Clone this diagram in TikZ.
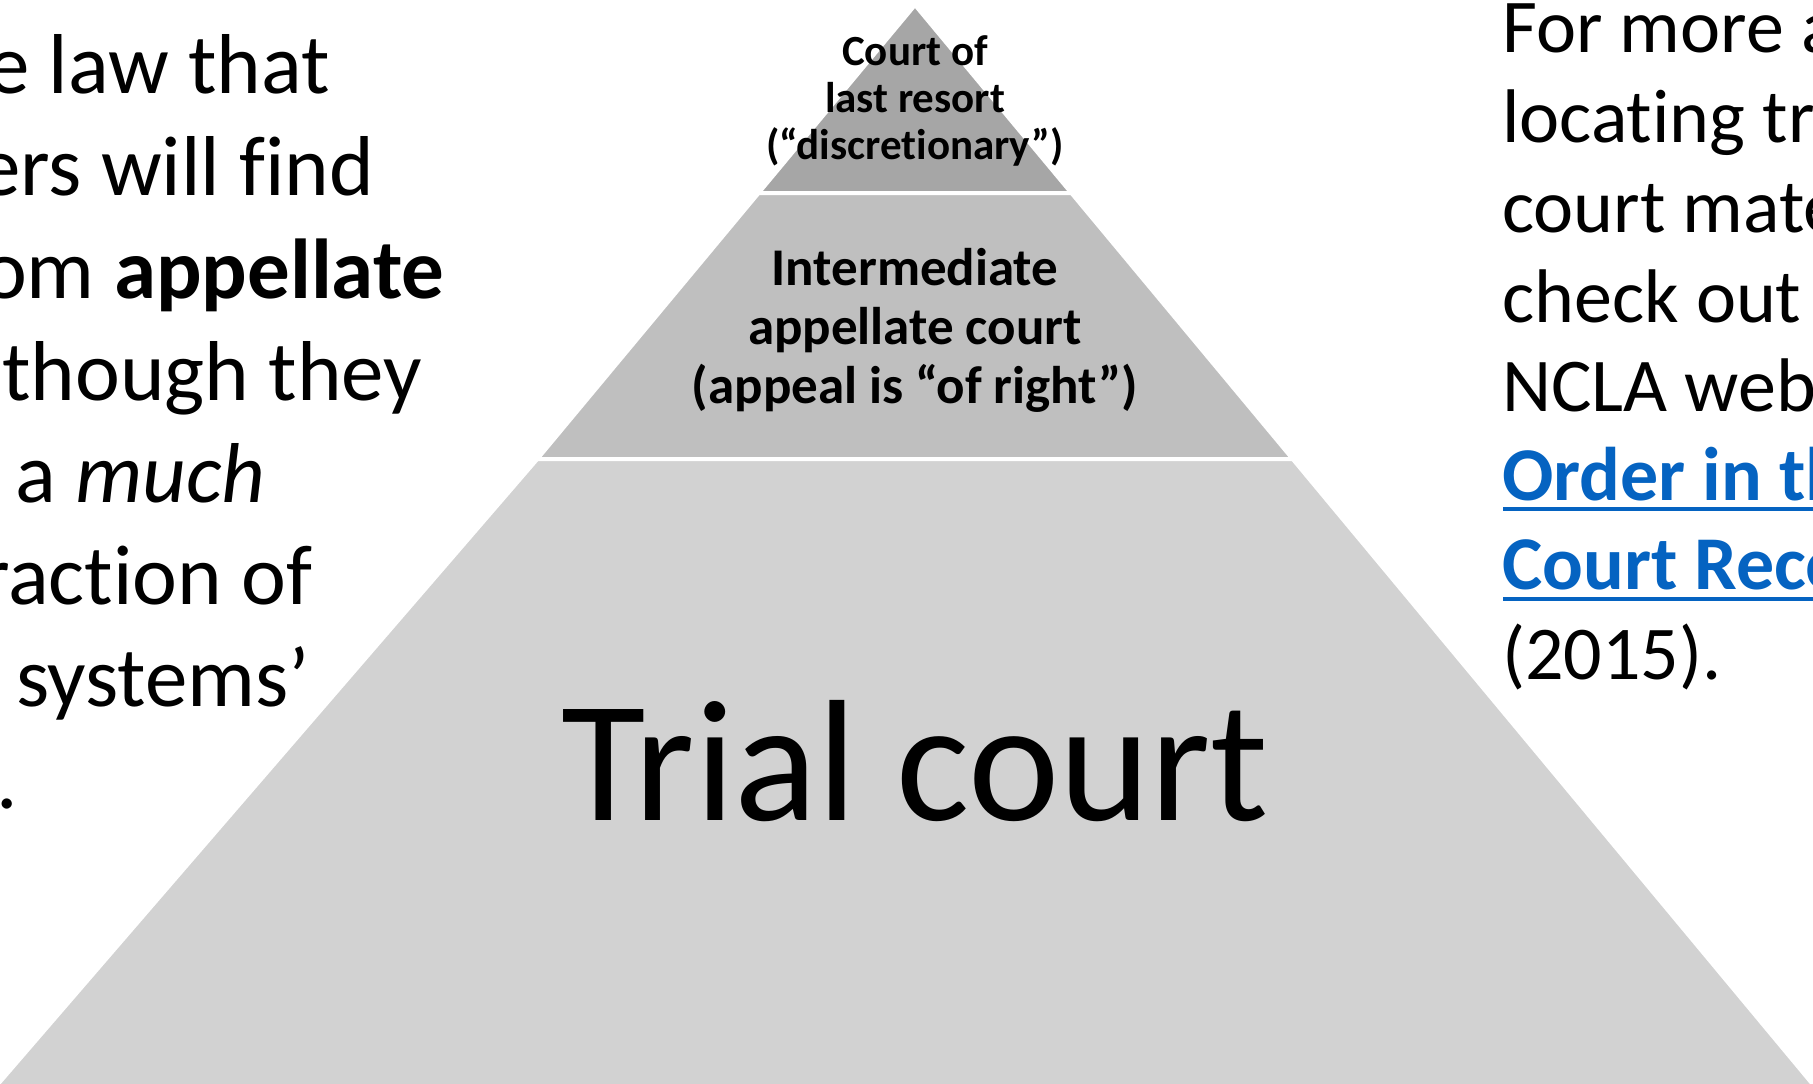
\documentclass[tikz,border=0pt]{standalone}
\usepackage{fontspec}
\setmainfont{Carlito}[Ligatures={NoCommon}]
\definecolor{segtop}{HTML}{A6A6A6}
\definecolor{segmid}{HTML}{BFBFBF}
\definecolor{segbot}{HTML}{D2D2D2}
\definecolor{linkblue}{HTML}{0563C1}
\tikzset{
  seg/.style={draw=white, line width=4pt, line join=miter},
  toplbl/.style={anchor=base, inner sep=0pt, font=\fontsize{43}{43}\selectfont\bfseries},
  midlbl/.style={anchor=base, inner sep=0pt, font=\fontsize{53}{53}\selectfont\bfseries},
  triallbl/.style={anchor=base, inner sep=0pt, font=\fontsize{173}{173}\selectfont},
  lefttxt/.style={anchor=base west, inner sep=0pt, font=\fontsize{85}{85}\selectfont},
  righttxt/.style={anchor=base west, inner sep=0pt, font=\fontsize{76}{76}\selectfont},
  linktxt/.style={righttxt, text=linkblue, font=\fontsize{76}{76}\selectfont\bfseries},
  uline/.style={draw=linkblue, line width=4pt}
}
\begin{document}
\begin{tikzpicture}[x=1pt,y=-1pt]
\useasboundingbox (0,0) rectangle (1813,1084);
% pyramid segments (apex 915,5; half-width slope 0.832)
\path[seg, fill=segtop] (915,5) -- (1071.4,193) -- (758.6,193) -- cycle;
\path[seg, fill=segmid] (758.6,193) -- (1071.4,193) -- (1292.7,459) -- (537.3,459) -- cycle;
\path[seg, fill=segbot] (537.3,459) -- (1292.7,459) -- (1830,1105) -- (0,1105) -- (-20,1105) -- cycle;
% labels in the pyramid
\node[toplbl] (t1) at (915,65) {Court of};
\node[toplbl] (t2) at (915,112) {last resort};
\node[toplbl] (t3) at (915,159.5) {(“discretionary”)};
\node[midlbl] (m1) at (915,285) {Intermediate};
\node[midlbl] (m2) at (915,344) {appellate court};
\node[midlbl] (m3) at (915,403) {(appeal is “of right”)};
\node[triallbl] (trial) at (915,820) {Trial court};
% left text (clipped at the left edge)
\node[lefttxt] (l1) at (-13,93) {e law that};
\node[lefttxt] (l2) at (-22,195) {ers will find};
\node[lefttxt] (l3) at (-18,298) {om \textbf{appellate}};
\node[lefttxt] (l4) at (2,400) {though they};
\node[lefttxt] (l5) at (15,502) {a \textit{much}};
\node[lefttxt] (l6) at (-20,604) {raction of};
\node[lefttxt] (l7) at (16,706) {systems’};
\node[lefttxt] (l8) at (-4,808) {.};
% right text (clipped at the right edge)
\node[righttxt] (r1) at (1502,52) {For more a};
\node[righttxt] (r2) at (1502,142.5) {locating tr};
\node[righttxt] (r3) at (1502,232) {court mate};
\node[righttxt] (r4) at (1502,322) {check out};
\node[righttxt] (r5) at (1502,411) {NCLA web};
\node[linktxt] (r6) at (1502,500) {Order in th};
\node[linktxt] (r7) at (1502,589.5) {Court Reco};
\node[righttxt] (r8) at (1502,679) {(2015).};
\coordinate (u6a) at (1503,509);
\coordinate (u6b) at (1813,509);
\coordinate (u7a) at (1503,599);
\coordinate (u7b) at (1813,599);
\draw[uline] (u6a) -- (u6b);
\draw[uline] (u7a) -- (u7b);
\end{tikzpicture}
\end{document}
